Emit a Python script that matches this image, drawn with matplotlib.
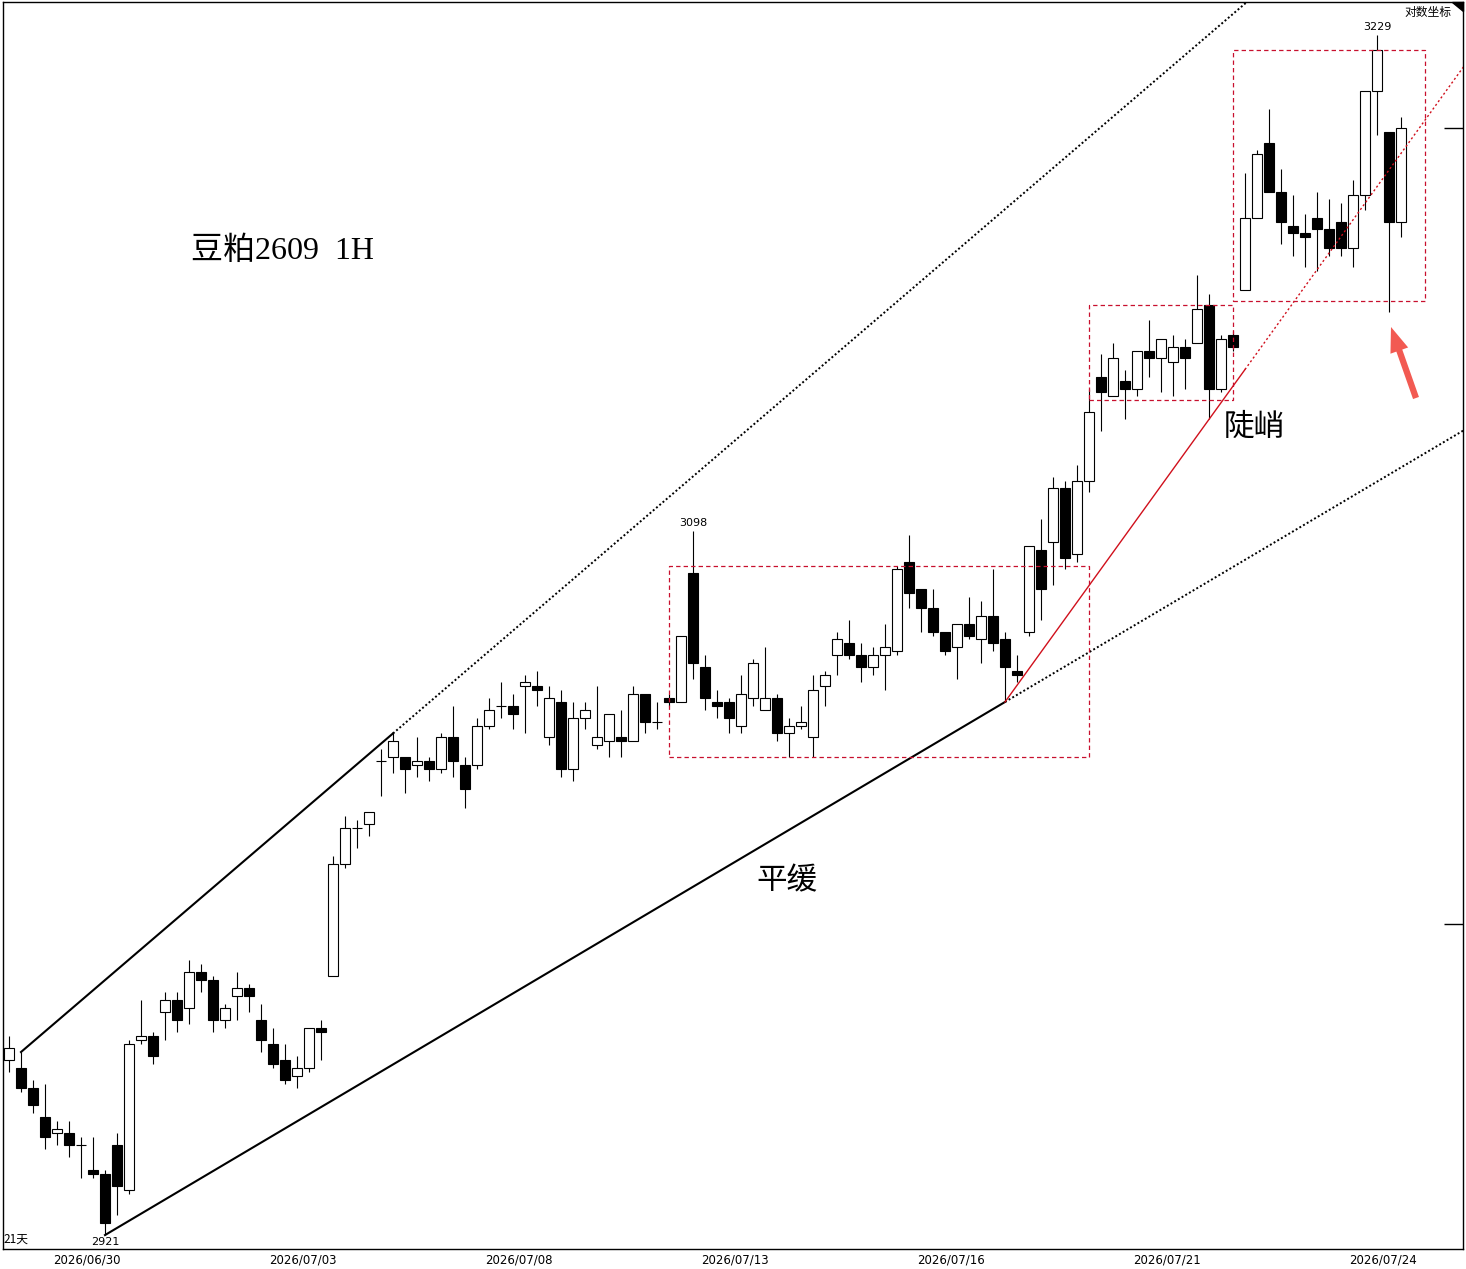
import numpy as np
import matplotlib
matplotlib.use('Agg')
import matplotlib.pyplot as plt
from matplotlib.patches import Rectangle, Polygon
from matplotlib.ticker import FixedLocator, NullLocator, NullFormatter

# hourly bars, soybean meal 2609
opens = [2964, 2962, 2957, 2950, 2946, 2946, 2943, 2937, 2936, 2943,
         2932, 2969, 2970, 2976, 2979, 2977, 2986, 2984, 2974, 2980,
         2982, 2974, 2968, 2964, 2960, 2962, 2972, 2985, 3013, 3022,
         3023, 3039, 3040, 3040, 3038, 3039, 3037, 3045, 3038, 3038,
         3048, 3053, 3053, 3058, 3058, 3045, 3054, 3037, 3050, 3043,
         3044, 3045, 3044, 3056, 3049, 3055, 3054, 3087, 3063, 3054,
         3054, 3048, 3055, 3052, 3055, 3046, 3048, 3045, 3058, 3066,
         3069, 3066, 3063, 3066, 3067, 3090, 3083, 3078, 3072, 3068,
         3074, 3070, 3076, 3070, 3062, 3072, 3093, 3095, 3109, 3092,
         3111, 3138, 3133, 3137, 3135, 3145, 3143, 3142, 3146, 3147,
         3157, 3135, 3149, 3161, 3180, 3200, 3187, 3178, 3176, 3180,
         3177, 3179, 3172, 3186, 3214, 3203, 3179]
highs = [2970, 2966, 2959, 2958, 2949, 2949, 2945, 2945, 2937, 2946,
         2969, 2979, 2971, 2981, 2981, 2989, 2988, 2985, 2978, 2986,
         2983, 2978, 2972, 2968, 2965, 2972, 2974, 3015, 3025, 3024,
         3026, 3042, 3046, 3040, 3045, 3040, 3046, 3053, 3040, 3050,
         3055, 3059, 3056, 3061, 3062, 3058, 3057, 3054, 3054, 3058,
         3051, 3052, 3058, 3056, 3054, 3056, 3071, 3098, 3066, 3057,
         3055, 3061, 3065, 3068, 3056, 3050, 3053, 3061, 3062, 3072,
         3075, 3069, 3068, 3074, 3089, 3097, 3083, 3083, 3072, 3074,
         3081, 3080, 3088, 3072, 3066, 3094, 3101, 3112, 3111, 3115,
         3135, 3144, 3147, 3140, 3145, 3153, 3148, 3149, 3148, 3165,
         3160, 3149, 3150, 3192, 3198, 3209, 3193, 3186, 3181, 3187,
         3185, 3184, 3190, 3214, 3229, 3203, 3207]
lows = [2961, 2956, 2951, 2942, 2943, 2940, 2935, 2935, 2921, 2926,
        2931, 2968, 2963, 2969, 2971, 2973, 2981, 2971, 2972, 2974,
        2976, 2966, 2962, 2958, 2957, 2961, 2964, 2985, 3012, 3017,
        3020, 3030, 3036, 3031, 3035, 3034, 3036, 3035, 3027, 3037,
        3047, 3050, 3047, 3046, 3053, 3043, 3035, 3034, 3047, 3042,
        3040, 3040, 3044, 3046, 3047, 3053, 3054, 3060, 3052, 3050,
        3046, 3046, 3053, 3052, 3044, 3040, 3047, 3040, 3053, 3061,
        3065, 3059, 3061, 3057, 3066, 3078, 3072, 3071, 3066, 3060,
        3070, 3064, 3067, 3054, 3059, 3071, 3075, 3084, 3088, 3090,
        3108, 3124, 3133, 3127, 3133, 3138, 3134, 3133, 3135, 3147,
        3127, 3134, 3145, 3161, 3180, 3187, 3173, 3170, 3167, 3166,
        3170, 3170, 3167, 3182, 3202, 3155, 3175]
closes = [2967, 2957, 2953, 2945, 2947, 2943, 2943, 2936, 2924, 2933,
          2968, 2970, 2965, 2979, 2974, 2986, 2984, 2974, 2977, 2982,
          2980, 2969, 2963, 2959, 2962, 2972, 2971, 3013, 3022, 3022,
          3026, 3039, 3044, 3037, 3039, 3037, 3045, 3039, 3032, 3048,
          3052, 3053, 3051, 3059, 3057, 3055, 3037, 3050, 3052, 3045,
          3051, 3044, 3056, 3049, 3049, 3054, 3071, 3064, 3055, 3053,
          3050, 3056, 3064, 3055, 3046, 3048, 3049, 3057, 3061, 3070,
          3066, 3063, 3066, 3068, 3088, 3082, 3078, 3072, 3067, 3074,
          3071, 3076, 3069, 3063, 3061, 3094, 3083, 3109, 3091, 3111,
          3129, 3134, 3143, 3135, 3145, 3143, 3148, 3146, 3143, 3156,
          3135, 3148, 3146, 3180, 3197, 3187, 3179, 3176, 3175, 3177,
          3172, 3172, 3186, 3214, 3225, 3179, 3204]

date_labels = ['2026/06/30', '2026/07/03', '2026/07/08', '2026/07/13',
               '2026/07/16', '2026/07/21', '2026/07/24']
date_pos = [6.5, 24.5, 42.5, 60.5, 78.5, 96.5, 114.5]

# boxes drawn on the chart: (first bar, last bar, low, high)
boxes = [(55, 90, 3040, 3089), (90, 102, 3132, 3157), (102, 118, 3158, 3225)]
red_anchor = (103, 3140)
right_ticks = [2998, 3204]

W, H = 1466, 1269
fig = plt.figure(figsize=(W / 100, H / 100), dpi=100)
ax = fig.add_axes([3 / W, 20 / H, 1460 / W, 1247 / H])
ax.set_yscale('log')
ax.set_xlim(-0.5, 121.17)
ax.set_ylim(2917.6, 3237.9)

o = np.array(opens, float)
hi = np.array(highs, float)
lo = np.array(lows, float)
c = np.array(closes, float)
x = np.arange(len(o))
face = np.where(c > o, 'white', 'black')

ax.vlines(x, lo, hi, color='black', lw=0.8, zorder=2)
ax.bar(x, np.abs(c - o), bottom=np.minimum(o, c), width=0.85, color=face,
       edgecolor='black', linewidth=0.8, zorder=3)


def ext(x1, p1, x2, p2, xs):
    xs = np.asarray(xs, float)
    return p1 * (p2 / p1) ** ((xs - x1) / (x2 - x1))


xr = 121.2
dot = (0, (1, 1.2))
# upper channel
xs = np.array([1, 32])
ax.plot(xs, ext(1, hi[1], 32, hi[32], xs), color='black', lw=1.5, zorder=4)
xs = np.array([32, xr])
ax.plot(xs, ext(1, hi[1], 32, hi[32], xs), color='black', lw=1.4, ls=dot, zorder=4)
# lower trend (gentle)
xs = np.array([8, 83])
ax.plot(xs, ext(8, lo[8], 83, lo[83], xs), color='black', lw=1.5, zorder=4)
xs = np.array([83, xr])
ax.plot(xs, ext(8, lo[8], 83, lo[83], xs), color='black', lw=1.4, ls=dot, zorder=4)
# steep red trend
xs = np.array([83, 103])
ax.plot(xs, ext(83, lo[83], *red_anchor, xs), color='#d0101c', lw=1.0, zorder=4)
xs = np.array([103, xr])
ax.plot(xs, ext(83, lo[83], *red_anchor, xs), color='#d0101c', lw=1.0,
        ls=(0, (1.5, 1.8)), zorder=4)

for x0, x1, b, t in boxes:
    ax.add_patch(Rectangle((x0, b), x1 - x0, t - b, fill=False, edgecolor='#c8102e',
                           lw=0.9, ls=(0, (3.5, 2.5)), zorder=5))

# axes styling
for s in ax.spines.values():
    s.set_color('black')
    s.set_linewidth(1.0)
ax.set_xticks(date_pos)
ax.set_xticklabels(date_labels, fontsize=8.5, family='DejaVu Sans')
ax.tick_params(axis='x', length=0, pad=3)
ax.yaxis.set_major_locator(FixedLocator(right_ticks))
ax.yaxis.set_minor_locator(NullLocator())
ax.yaxis.set_major_formatter(NullFormatter())
ax.yaxis.set_minor_formatter(NullFormatter())
ax.tick_params(axis='y', which='both', left=False, right=True, direction='in',
               length=14, width=1.0, labelleft=False, labelright=False)

# price marks
ax.annotate('3098', xy=(57, hi[57]), xytext=(0, 8), textcoords='offset pixels',
            ha='center', va='center', fontsize=8)
ax.annotate('3229', xy=(114, hi[114]), xytext=(0, 8), textcoords='offset pixels',
            ha='center', va='center', fontsize=8)
ax.annotate('2921', xy=(8, lo[8]), xytext=(0, -7), textcoords='offset pixels',
            ha='center', va='center', fontsize=8)


def fp(px, py):
    return px / W, 1 - py / H


cjk = ['Noto Sans CJK SC', 'DejaVu Sans']
serif = ['Liberation Serif', 'Noto Sans CJK SC']
fig.text(*fp(3, 1239), '21天', ha='left', va='center', fontsize=8.5, family=cjk)
fig.text(*fp(1428, 12), '对数坐标', ha='center', va='center', fontsize=8.5, family=cjk)
fig.text(*fp(191, 251), '豆粕2609  1H', ha='left', va='center', fontsize=23, family=serif)
fig.text(*fp(787, 882), '平缓', ha='center', va='center', fontsize=22, family=serif)
fig.text(*fp(1254, 428), '陡峭', ha='center', va='center', fontsize=22, family=serif)

fig.add_artist(Polygon([fp(1452, 2), fp(1463, 2), fp(1463, 11)], closed=True,
                       transform=fig.transFigure, color='black'))

ax.annotate('', xy=(1391, H - 327), xycoords='figure pixels',
            xytext=(1416, H - 398), textcoords='figure pixels',
            arrowprops=dict(arrowstyle='simple,head_length=1.2,head_width=0.9,tail_width=0.3',
                            fc='#f25a52', ec='none', mutation_scale=15, shrinkA=0, shrinkB=0))

fig.savefig('out.png', dpi=100, facecolor='white')
